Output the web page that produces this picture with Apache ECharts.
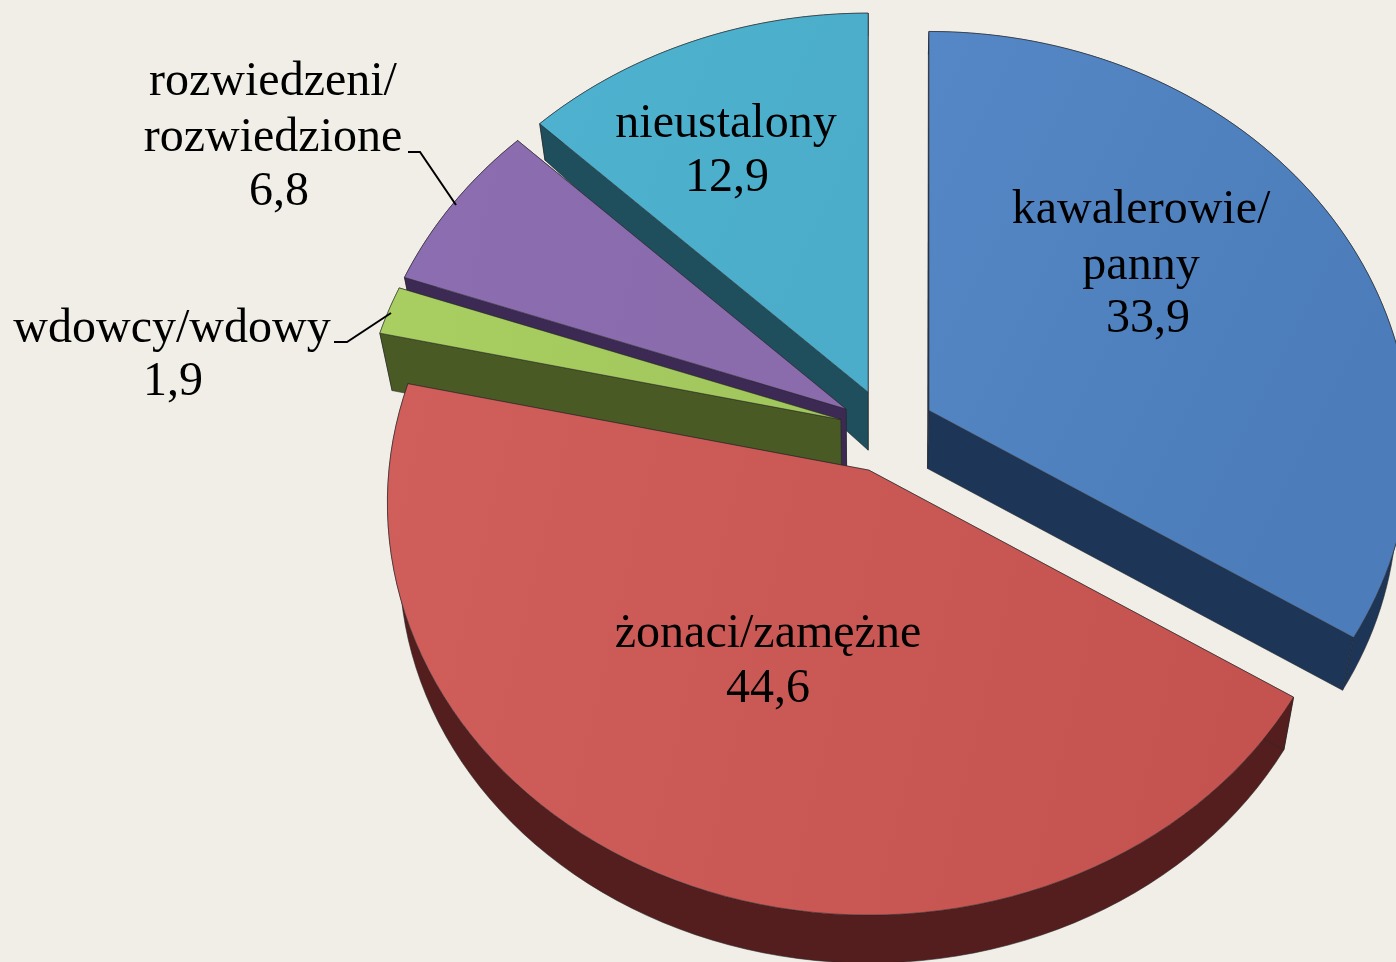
<!DOCTYPE html>
<html>
<head>
<meta charset="utf-8">
<style>
  html, body { margin: 0; padding: 0; background: #f0eee6; }
  #chart { width: 1396px; height: 962px; }
</style>
<script src="https://cdn.jsdelivr.net/npm/echarts@6/dist/echarts.min.js"></script>
</head>
<body>
<div id="chart"></div>
<script>
// slices clockwise from 12 o'clock
const categories = ['kawalerowie/\npanny', 'żonaci/zamężne', 'wdowcy/wdowy', 'rozwiedzeni/\nrozwiedzione', 'nieustalony']
const shares = [33.9, 44.6, 1.9, 6.8, 12.9]

const topColors = [['#5587c6', '#4c7dba'], ['#d05e5b', '#c4524f'], ['#a9cf62', '#a0c65c'], ['#8b6db1', '#8a6bab'], ['#4eb2d0', '#4badc9']]
const wallColors = ['#1d3557', '#551e1e', '#495a24', '#3c2a55', '#1f4e5c']
const drawOrder = [4, 3, 2, 0, 1]

// projection of the tilted pie
const center = [887, 431]
const explode = 48
const radiusX = 480
const radiusY = 412
const tilt = 0.88
const persp = 0.08
const vanish = 2300

const total = shares.reduce((a, b) => a + b, 0)
const font = '"Liberation Serif", "Times New Roman", serif'

function rim (apex, ang) {
  const u = Math.sin(ang)
  const v = -Math.cos(ang)
  const s = 1 + persp * v
  return [apex[0] + u * radiusX * s, apex[1] + v * radiusY * s]
}

// how far the lower disc sits below a point at depth v
function drop (v) {
  if (v < -0.2) return 58 + (v + 0.2) * 44
  return v > 0 ? 58 - 10 * v : 58
}

function lower (p, v) {
  const t = drop(v)
  return [p[0] + (870 - p[0]) * t / vanish, p[1] + t]
}

function poly (points, fill, z2) {
  return {
    type: 'polygon',
    z2: z2,
    shape: { points: points },
    style: { fill: fill, stroke: '#26262a', lineWidth: 0.8, lineJoin: 'round', strokeOpacity: 0.7 }
  }
}

function renderSlice (params, api) {
  const idx = api.value(0)
  const before = shares.slice(0, idx).reduce((a, b) => a + b, 0)
  const a0 = before / total * Math.PI * 2
  const a1 = (before + shares[idx]) / total * Math.PI * 2
  const mid = (a0 + a1) / 2
  const apex = [
    center[0] + Math.sin(mid) * explode,
    center[1] - Math.cos(mid) * explode * tilt
  ]
  const arcTop = []
  const arcLow = []
  const steps = 80
  for (let i = 0; i <= steps; i++) {
    const a = a0 + (a1 - a0) * i / steps
    const p = rim(apex, a)
    arcTop.push(p)
    arcLow.push(lower(p, -Math.cos(a)))
  }
  const apexLow = lower(apex, 0)
  const wall = wallColors[idx]
  const order = drawOrder.indexOf(idx) * 10
  // the cut face whose outer end sits lower on screen goes in front
  const faceA = [apex, arcTop[0], arcLow[0], apexLow]
  const faceB = [apex, arcTop[steps], arcLow[steps], apexLow]
  const backFace = arcTop[0][1] < arcTop[steps][1] ? faceA : faceB
  const frontFace = backFace === faceA ? faceB : faceA
  return {
    type: 'group',
    children: [
      poly(backFace, wall, order),
      poly(arcTop.concat(arcLow.slice().reverse()), wall, order + 1),
      poly(frontFace, wall, order + 2),
      poly([apex].concat(arcTop), {
        type: 'linear', x: 0, y: 0, x2: 1, y2: 0.4,
        colorStops: [
          { offset: 0, color: topColors[idx][0] },
          { offset: 1, color: topColors[idx][1] }
        ]
      }, order + 3)
    ]
  }
}

const nameAt = [[1141, 238], [768, 634], [172, 329], [273, 110], [726, 124]]
const valueAt = [[1148, 319], [768, 689], [173, 382], [279, 192], [727, 178]]

function textEl (x, y, text) {
  return {
    type: 'text',
    x: x,
    y: y,
    z: 20,
    style: {
      text: text,
      font: '48px ' + font,
      lineHeight: 56,
      fill: '#000',
      align: 'center',
      verticalAlign: 'middle'
    }
  }
}

const labels = []
categories.forEach((c, i) => {
  labels.push(textEl(nameAt[i][0], nameAt[i][1], c))
  labels.push(textEl(valueAt[i][0], valueAt[i][1], shares[i].toFixed(1).replace('.', ',')))
})

const leaders = [
  [[408, 152], [420, 152], [456, 205]],
  [[334, 342], [347, 342], [391, 313]]
].map(pts => ({
  type: 'polyline',
  z: 20,
  shape: { points: pts },
  style: { stroke: '#000', lineWidth: 2, fill: null }
}))

const chart = echarts.init(document.getElementById('chart'), null, { renderer: 'canvas' })
chart.setOption({
  backgroundColor: '#f0eee6',
  animation: false,
  tooltip: { show: false },
  series: [{
    type: 'custom',
    coordinateSystem: 'none',
    data: drawOrder.map(i => [i, shares[i]]),
    renderItem: renderSlice,
    silent: true
  }],
  graphic: { elements: labels.concat(leaders) }
})
</script>
</body>
</html>
